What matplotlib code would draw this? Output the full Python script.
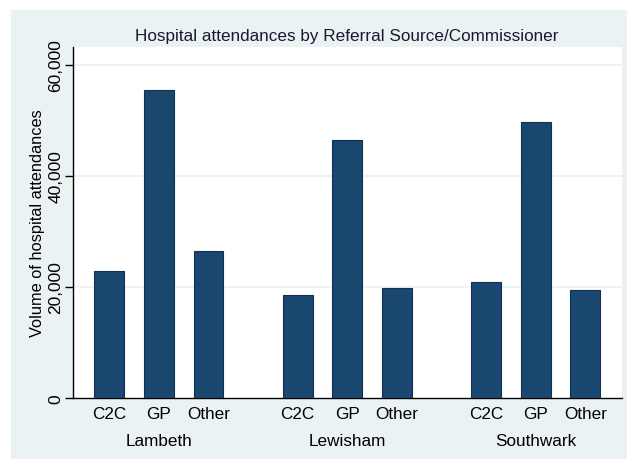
import numpy as np
import matplotlib
matplotlib.use("Agg")
import matplotlib.pyplot as plt
import matplotlib.transforms as mtransforms
from matplotlib.patches import Rectangle

plt.rcParams['font.family'] = ['Liberation Sans', 'DejaVu Sans']

# data
commissioners = ["Lambeth", "Lewisham", "Southwark"]
sources = ["C2C", "GP", "Other"]
lambeth = [22900, 55500, 26500]
lewisham = [18600, 46500, 19800]
southwark = [20900, 49700, 19450]
y_ticks = [0, 20000, 40000, 60000]

values = [lambeth, lewisham, southwark]

navy = "#1a476f"
bg = "#eaf2f3"

fig = plt.figure(figsize=(6.27, 4.60), dpi=100)
fig.add_artist(Rectangle((11 / 627, -0.1), 1.2, 1.1 - 11 / 460, transform=fig.transFigure,
                         facecolor=bg, edgecolor="none", zorder=-10))
ax = fig.add_axes([73 / 627, 61 / 460, (622 - 73) / 627, (399 - 48) / 460])

blend = mtransforms.blended_transform_factory(ax.transData, ax.transAxes)
group_gap = 3.8
for g, vals in enumerate(values):
    xs = g * group_gap + np.arange(len(sources))
    ax.bar(xs, vals, width=0.6, color=navy, edgecolor="#12304f", linewidth=0.8, zorder=3)
    for x, s in zip(xs, sources):
        ax.text(x, -0.044, s, transform=blend, ha="center", va="center", fontsize=12.3, color="black")
    ax.text(xs[1], -0.12, commissioners[g], transform=blend,
            ha="center", va="center", fontsize=12.3, color="black")

ax.set_xlim(-0.73, 10.34)
ax.set_ylim(0, 63250)
ax.set_xticks([])
ax.set_yticks(y_ticks)
ax.set_yticklabels([f"{v:,}" for v in y_ticks], rotation=90, va="center", fontsize=12.5)
ax.tick_params(axis="y", length=6, width=1, pad=1, direction="out")
for v in y_ticks[1:]:
    ax.axhline(v, color=bg, linewidth=1.2, zorder=1)

ax.spines["top"].set_visible(False)
ax.spines["right"].set_visible(False)
ax.spines["left"].set_linewidth(1)
ax.spines["bottom"].set_linewidth(1)
ax.set_ylabel("Volume of hospital attendances", fontsize=11.8, labelpad=2)

fig.text(347 / 627, 1 - 37 / 460, "Hospital attendances by Referral Source/Commissioner",
         ha="center", va="center", fontsize=12.3, color="#1a1a2e")

fig.savefig("out.png", dpi=100)
